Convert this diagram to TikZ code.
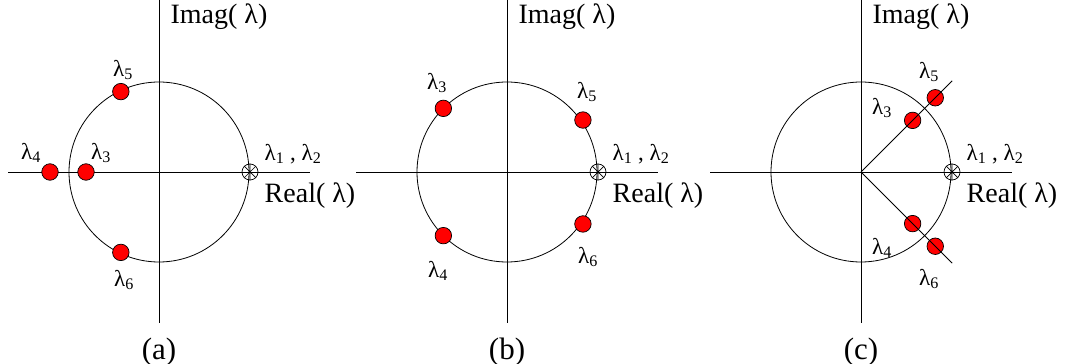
\documentclass[tikz,border=0pt]{standalone}
\usepackage{fontspec}
\setmainfont{Liberation Serif}
\usetikzlibrary{positioning,calc}
\newcommand{\lam}[1]{λ\textsubscript{#1}}

\begin{document}
\begin{tikzpicture}[x=1pt,y=1pt,
    axis/.style={line width=0.9pt},
    ring/.style={line width=0.8pt},
    eig/.style={circle, draw, fill=red, line width=0.7pt, minimum size=16.5pt, inner sep=0pt},
    dbl/.style={circle, draw, line width=0.7pt, minimum size=16pt, inner sep=0pt},
    lbl/.style={font=\fontsize{23}{25}\selectfont, inner sep=0pt},
    axlbl/.style={font=\fontsize{28}{30}\selectfont, inner sep=0pt},
    caplbl/.style={font=\fontsize{31}{33}\selectfont, inner sep=0pt}]
  \useasboundingbox (0,0) rectangle (1068,364);

  % Axes, unit circles and the double root
  \foreach \p/\ox in {a/159, b/507, c/861} {
    \coordinate (O\p) at (\ox,192);
    \begin{scope}[shift={(O\p)}]
      \coordinate (W\p) at (-151,0);
      \coordinate (E\p) at (151,0);
      \coordinate (S\p) at (0,-151);
      \coordinate (N\p) at (0,172);
      \draw[axis] (W\p) -- (E\p);
      \draw[axis] (S\p) -- (N\p);
      \draw[ring] (O\p) circle[radius=90pt];
      \node[dbl] (dbl\p) at (91,0) {};
      \draw[line width=0.7pt] (dbl\p.north) -- (dbl\p.south)
        (dbl\p.45) -- (dbl\p.225) (dbl\p.135) -- (dbl\p.315);
      \node[lbl] (dbllbl\p) at (134,18) {\lam{1} , \lam{2}};
      \node[axlbl] (re\p) at (151,-24) {Real( λ)};
      \node[axlbl] (im\p) at (60,155) {Imag( λ)};
      \node[caplbl, anchor=base] (cap\p) at (0,-187) {(\p)};
    \end{scope}
  }

  % Eigenvalues (a)
  \begin{scope}[shift={(Oa)}]
    \node[eig] (a5) at (115.4:89) {};
    \node[eig] (a6) at (244.6:89) {};
    \node[eig] (a4) at (-109,0) {};
    \node[eig] (a3) at (-73,0) {};
    \node[lbl] (a5l) at (-36,102) {\lam{5}};
    \node[lbl] (a4l) at (-128,19) {\lam{4}};
    \node[lbl] (a3l) at (-58,19) {\lam{3}};
    \node[lbl] (a6l) at (-35,-108) {\lam{6}};
  \end{scope}

  % Eigenvalues (b)
  \begin{scope}[shift={(Ob)}]
    \node[eig] (b3) at (135:90) {};
    \node[eig] (b5) at (34.4:92) {};
    \node[eig] (b6) at (-34.4:92) {};
    \node[eig] (b4) at (225:90) {};
    \node[lbl] (b3l) at (-70,89) {\lam{3}};
    \node[lbl] (b5l) at (80,80) {\lam{5}};
    \node[lbl] (b6l) at (81,-85) {\lam{6}};
    \node[lbl] (b4l) at (-69,-99) {\lam{4}};
  \end{scope}

  % Eigenvalues (c)
  \begin{scope}[shift={(Oc)}]
    \coordinate (cNE) at (45:129);
    \coordinate (cSE) at (-45:129);
    \node[eig] (c5) at (45:105) {};
    \node[eig] (c3) at (45:73) {};
    \node[eig] (c4) at (-45:73) {};
    \node[eig] (c6) at (-45:105) {};
    \draw[ring] (Oc) -- (cNE);
    \draw[ring] (Oc) -- (cSE);
    \node[lbl] (c5l) at (68,100) {\lam{5}};
    \node[lbl] (c3l) at (21,64) {\lam{3}};
    \node[lbl] (c4l) at (21,-76) {\lam{4}};
    \node[lbl] (c6l) at (68,-107) {\lam{6}};
  \end{scope}
\end{tikzpicture}
\end{document}
